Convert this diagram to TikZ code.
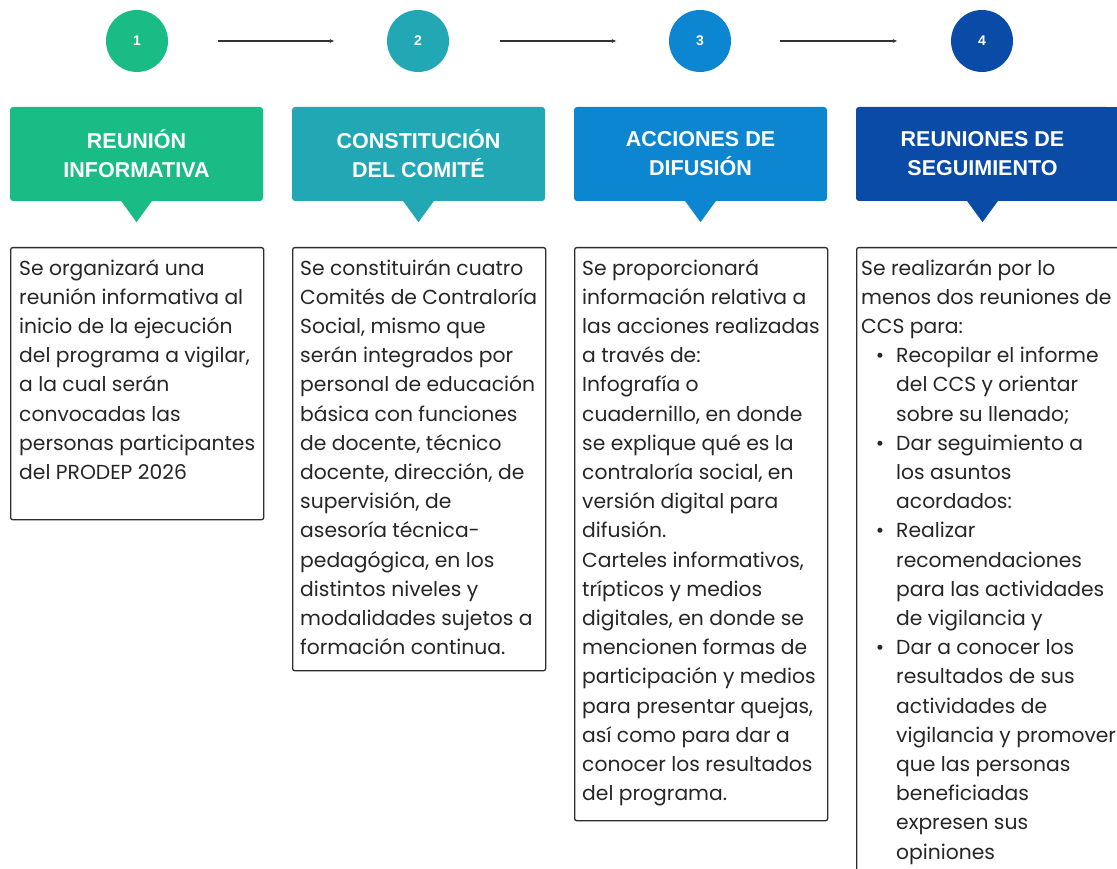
\documentclass[tikz,border=0pt]{standalone}
\usepackage{fontspec}
\setmainfont{Poppins}
\newfontfamily\headfont{Liberation Sans}
\usetikzlibrary{arrows.meta}
\definecolor{cA}{HTML}{1ABC86}
\definecolor{cB}{HTML}{22A8B4}
\definecolor{cC}{HTML}{0D86D2}
\definecolor{cD}{HTML}{0A4BA8}
\definecolor{txt}{HTML}{262626}
\definecolor{frame}{HTML}{2E2E2E}
\begin{document}
\begin{tikzpicture}[x=1pt,y=-1pt,
  num/.style={circle, minimum size=62pt, inner sep=0pt, text=white,
    font=\headfont\bfseries\fontsize{14}{16}\selectfont},
  flow/.style={draw=black!80, line width=1.1pt, -{Latex[length=5pt,width=4pt]}},
  head/.style={rounded corners=3pt, minimum width=253pt, minimum height=94pt,
    inner sep=0pt, text=white, align=center,
    font=\headfont\bfseries\fontsize{21.5}{29}\selectfont},
  card/.style={draw=frame, line width=1.3pt, rounded corners=2pt,
    anchor=north west, inner sep=0pt, minimum width=253pt},
  body/.style={anchor=north west, align=left, inner sep=0pt, text=txt,
    font=\fontsize{20.3}{29.2}\selectfont}]
\useasboundingbox (0,0) rectangle (1117,869);
\clip (0,0) rectangle (1117,869);
\fill[white] (0,0) rectangle (1117,869);

% step circles
\node[num, fill=cA] (n1) at (137,41) {1};
\node[num, fill=cB] (n2) at (418,41) {2};
\node[num, fill=cC] (n3) at (700,41) {3};
\node[num, fill=cD] (n4) at (982,41) {4};
\draw[flow, shorten <=50pt, shorten >=52pt] (n1) -- (n2);
\draw[flow, shorten <=51pt, shorten >=52pt] (n2) -- (n3);
\draw[flow, shorten <=49pt, shorten >=53pt] (n3) -- (n4);

% headers
\fill[cD] (1000,107) rectangle (1125,201);
\node[head, fill=cA] (h1) at (136.5,154) {REUNIÓN\\INFORMATIVA};
\node[head, fill=cB] (h2) at (418.5,154) {CONSTITUCIÓN\\DEL COMITÉ};
\node[head, fill=cC] (h3) at (700.5,154) {ACCIONES DE\\DIFUSIÓN};
\node[head, fill=cD] (h4) at (982.5,154) {REUNIONES DE\\SEGUIMIENTO};
\foreach \h/\c in {h1/cA, h2/cB, h3/cC, h4/cD}{
  \fill[\c] ([xshift=-16pt,yshift=1pt]\h.south) -- ([xshift=16pt,yshift=1pt]\h.south)
    -- ([yshift=-21pt]\h.south) -- cycle;
}

% cards
\node[card, minimum height=272pt] (b1) at (10,247) {};
\node[card, minimum height=423pt] (b2) at (292,247) {};
\node[card, minimum height=573pt] (b3) at (574,247) {};
\node[card, minimum width=300pt, minimum height=660pt] (b4) at (856,247) {};

\node[body] (t1) at (19,259) {Se organizará una\\
reunión informativa al\\
inicio de la ejecución\\
del programa a vigilar,\\
a la cual serán\\
convocadas las\\
personas participantes\\
del PRODEP 2026};

\node[body] (t2) at (300,259) {Se constituirán cuatro\\
Comités de Contraloría\\
Social, mismo que\\
serán integrados por\\
personal de educación\\
básica con funciones\\
de docente, técnico\\
docente, dirección, de\\
supervisión, de\\
asesoría técnica-\\
pedagógica, en los\\
distintos niveles y\\
modalidades sujetos a\\
formación continua.};

\node[body] (t3) at (582,259) {Se proporcionará\\
información relativa a\\
las acciones realizadas\\
a través de:\\
Infografía o\\
cuadernillo, en donde\\
se explique qué es la\\
contraloría social, en\\
versión digital para\\
difusión.\\
Carteles informativos,\\
trípticos y medios\\
digitales, en donde se\\
mencionen formas de\\
participación y medios\\
para presentar quejas,\\
así como para dar a\\
conocer los resultados\\
del programa.};

\newcommand{\bitem}{\hspace*{35pt}\llap{\textbullet\hspace{12pt}}}
\newcommand{\bcont}{\hspace*{35pt}}
\node[body] (t4) at (861,259) {Se realizarán por lo\\
menos dos reuniones de\\
CCS para:\\
\bitem Recopilar el informe\\
\bcont del CCS y orientar\\
\bcont sobre su llenado;\\
\bitem Dar seguimiento a\\
\bcont los asuntos\\
\bcont acordados:\\
\bitem Realizar\\
\bcont recomendaciones\\
\bcont para las actividades\\
\bcont de vigilancia y\\
\bitem Dar a conocer los\\
\bcont resultados de sus\\
\bcont actividades de\\
\bcont vigilancia y promover\\
\bcont que las personas\\
\bcont beneficiadas\\
\bcont expresen sus\\
\bcont opiniones};
\end{tikzpicture}
\end{document}
